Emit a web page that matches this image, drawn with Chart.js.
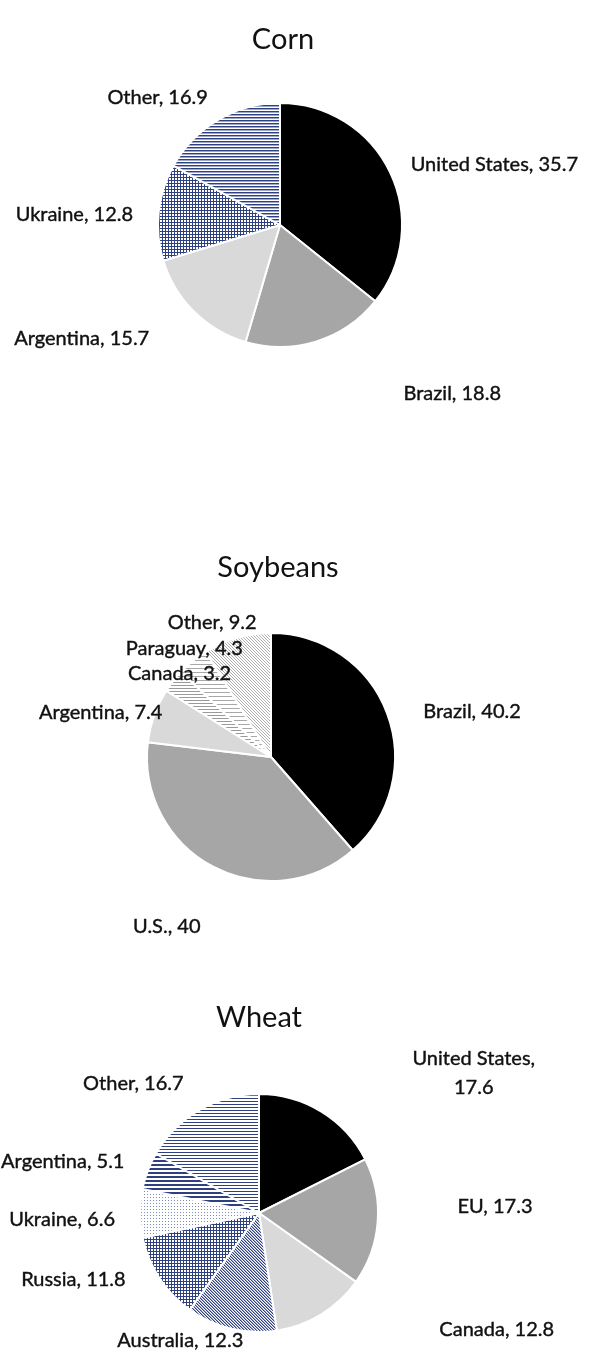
<!DOCTYPE html>
<html>
<head>
<meta charset="utf-8">
<title>Export shares</title>
<script src="https://cdn.jsdelivr.net/npm/chart.js@4.4.1/dist/chart.umd.min.js"></script>
<style>
  body { margin: 0; background: #fff; }
  .wrap { position: relative; width: 591px; height: 1370px; }
  canvas { position: absolute; left: 0; }
</style>
</head>
<body>
<div class="wrap">
  <canvas id="cornChart" width="591" height="460" style="top:0px"></canvas>
  <canvas id="soyChart" width="591" height="500" style="top:460px"></canvas>
  <canvas id="wheatChart" width="591" height="410" style="top:960px"></canvas>
</div>
<script>
const cornLabels = ['United States', 'Brazil', 'Argentina', 'Ukraine', 'Other'];
const cornShares = [35.7, 18.8, 15.7, 12.8, 16.9];

const soyLabels = ['Brazil', 'U.S.', 'Argentina', 'Canada', 'Paraguay', 'Other'];
const soyShares = [40.2, 40, 7.4, 3.2, 4.3, 9.2];

const wheatLabels = ['United States', 'EU', 'Canada', 'Australia', 'Russia', 'Ukraine', 'Argentina', 'Other'];
const wheatShares = [17.6, 17.3, 12.8, 12.3, 11.8, 6.6, 5.1, 16.7];

const NAVY = '#2f4080';
const NAVY_SOFT = '#9ea7cb';
const FONT = 'Lato, "Open Sans", sans-serif';

// small repeating fills, drawn on an offscreen tile
function makePattern(w, h, paint) {
    const c = document.createElement('canvas');
    c.width = w;
    c.height = h;
    const g = c.getContext('2d');
    g.fillStyle = '#fff';
    g.fillRect(0, 0, w, h);
    paint(g);
    return g.createPattern(c, 'repeat');
}

const hLines = (color, period, thick, soft) => makePattern(period, period, g => {
    g.fillStyle = color;
    g.fillRect(0, 0, period, thick);
    if (soft) {
        g.fillStyle = soft;
        g.fillRect(0, thick, period, 1);
    }
});

const grid = (color, period) => makePattern(period, period, g => {
    g.fillStyle = color;
    g.fillRect(0, 0, period, 1);
    g.fillRect(0, 0, 1, period);
});

const dots = (color, period) => makePattern(period, period, g => {
    g.fillStyle = color;
    g.fillRect(0, 0, 1, 1);
});

const diag = (color, period, soft) => makePattern(period, period, g => {
    g.fillStyle = color;
    for (let i = 0; i < period; i++) g.fillRect(i, i, 1, 1);
    if (soft) {
        g.fillStyle = soft;
        for (let i = 0; i < period; i++) g.fillRect((i + 1) % period, i, 1, 1);
    }
});

const cornFills = ['#000000', '#a6a6a6', '#d9d9d9', grid(NAVY, 3), hLines(NAVY, 3, 1, NAVY_SOFT)];
const soyFills = ['#000000', '#a6a6a6', '#d9d9d9', hLines('#9a9a9a', 3, 1), hLines('#a8a8a8', 4, 1), diag('#b0b0b0', 3)];
const wheatFills = ['#000000', '#a6a6a6', '#d9d9d9', diag(NAVY, 3, NAVY_SOFT), grid(NAVY, 3),
    dots('#7d8bbb', 3), hLines(NAVY, 4, 2), hLines(NAVY, 3, 1)];

// title plus "Name, value" labels outside each slice
const sliceLabels = {
    id: 'sliceLabels',
    afterDatasetsDraw(chart, args, opts) {
        const ctx = chart.ctx;
        const meta = chart.getDatasetMeta(0);
        const values = chart.data.datasets[0].data;
        ctx.save();
        ctx.fillStyle = '#111';
        ctx.strokeStyle = '#111';
        ctx.lineWidth = 0.4;
        ctx.textAlign = 'center';
        ctx.textBaseline = 'middle';

        ctx.font = opts.titleFont;
        ctx.fillText(opts.title, opts.titleX, opts.titleY);

        ctx.font = opts.font;
        meta.data.forEach((arc, i) => {
            const p = arc.getProps(['x', 'y', 'startAngle', 'endAngle', 'outerRadius'], true);
            const mid = (p.startAngle + p.endAngle) / 2;
            const name = chart.data.labels[i];
            const lines = opts.wrap && opts.wrap[i]
                ? [name + ',', String(values[i])]
                : [name + ', ' + values[i]];
            const w = Math.max(...lines.map(t => ctx.measureText(t).width));
            const h = lines.length * opts.lineHeight;
            const cos = Math.cos(mid), sin = Math.sin(mid);
            const ax = p.x + (p.outerRadius + opts.gap) * cos;
            const ay = p.y + (p.outerRadius + opts.gap) * sin;
            const shift = opts.shifts[i] || [0, 0];
            const cx = ax + cos * w / 2 + shift[0];
            const cy = ay + sin * h / 2 + shift[1];
            lines.forEach((t, k) => {
                const ty = cy - h / 2 + opts.lineHeight * (k + 0.5);
                ctx.fillText(t, cx, ty);
                ctx.strokeText(t, cx, ty);
            });
        });
        ctx.restore();
    }
};

function drawPie(id, labels, shares, fills, pie, text) {
    const canvas = document.getElementById(id);
    const W = canvas.width, H = canvas.height;
    const r = pie.r + 1;
    return new Chart(canvas, {
        type: 'pie',
        data: {
            labels: labels,
            datasets: [{
                data: shares,
                backgroundColor: fills,
                borderColor: '#ffffff',
                borderWidth: 2
            }]
        },
        options: {
            responsive: false,
            animation: false,
            radius: pie.r,
            layout: {
                padding: {
                    left: pie.x - r,
                    right: W - pie.x - r,
                    top: pie.y - r,
                    bottom: H - pie.y - r
                }
            },
            plugins: {
                legend: { display: false },
                tooltip: { enabled: false },
                sliceLabels: Object.assign({
                    font: '20px ' + FONT,
                    titleFont: '29px ' + FONT,
                    gap: 10,
                    lineHeight: 29
                }, text)
            }
        },
        plugins: [sliceLabels]
    });
}

drawPie('cornChart', cornLabels, cornShares, cornFills,
    { x: 280, y: 225, r: 122 },
    {
        title: 'Corn', titleX: 283, titleY: 40,
        shifts: [[20, 3], [118, 29], [-58, 9], [-16, 5], [-30, -1]]
    });

drawPie('soyChart', soyLabels, soyShares, soyFills,
    { x: 271, y: 297, r: 124 },
    {
        title: 'Soybeans', titleX: 278, titleY: 108,
        shifts: [[30, 7], [-26, 38], [14, 5], [55, 8], [35, 7], [-10, 8]]
    });

drawPie('wheatChart', wheatLabels, wheatShares, wheatFills,
    { x: 259, y: 253, r: 119 },
    {
        title: 'Wheat', titleX: 259, titleY: 58,
        wrap: [true],
        shifts: [[115, -5], [70, -17], [140, -6], [-34, -12], [-34, -12], [-15, 6], [-18, 0], [-36, -5]]
    });
</script>
</body>
</html>
